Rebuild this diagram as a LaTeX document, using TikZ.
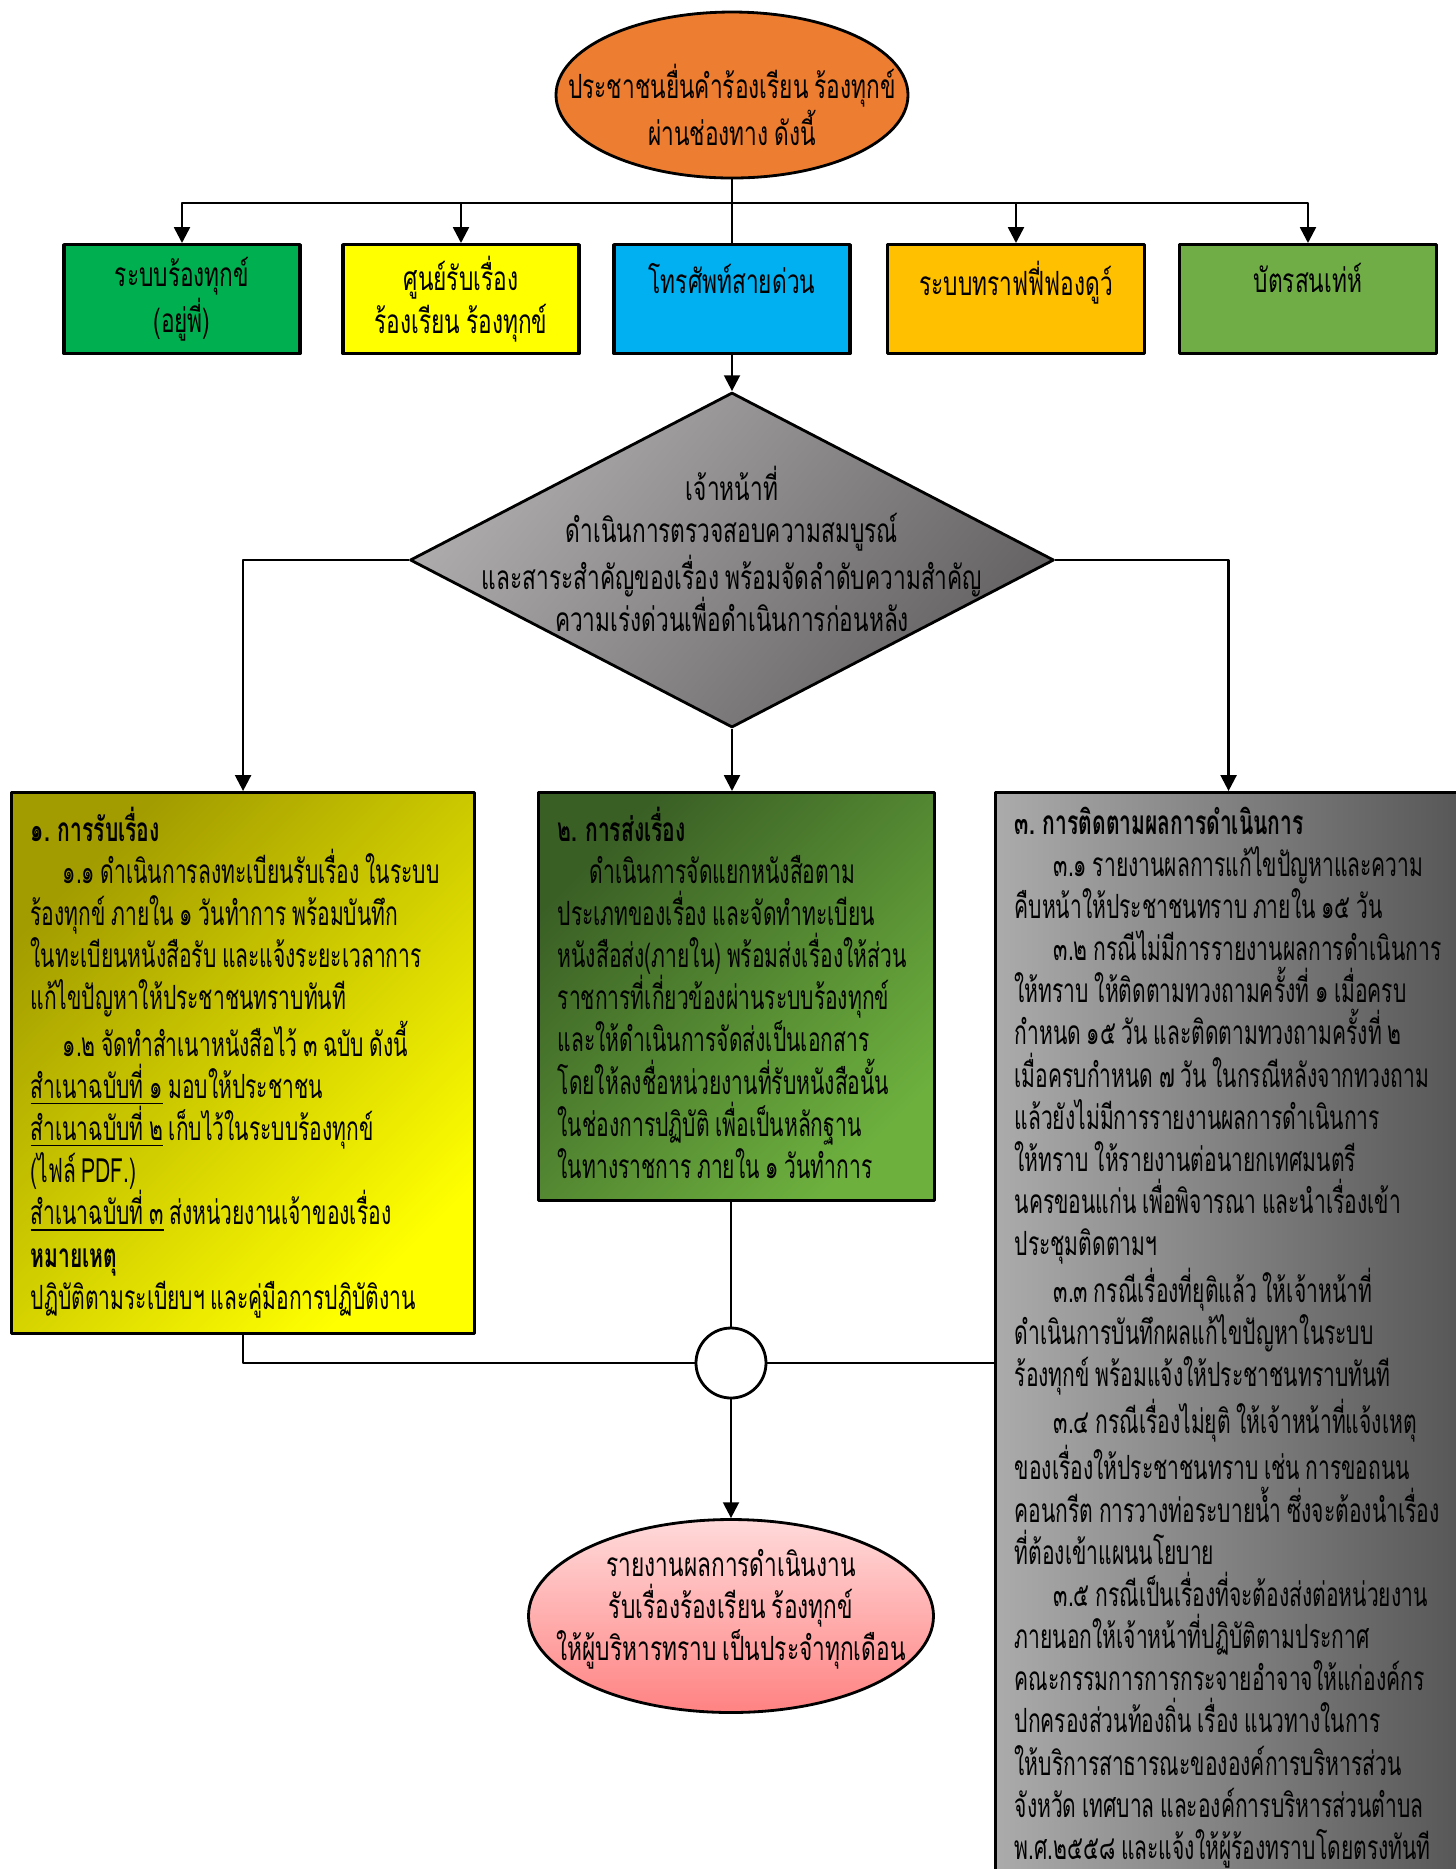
\documentclass[tikz,border=0pt]{standalone}
\usepackage{fontspec}
\setmainfont[Script=Thai, FakeStretch=0.68, WordSpace=0.8]{Loma}
\newfontfamily\panelfont[Script=Thai, FakeStretch=0.63, WordSpace=0.8]{Loma}
\usetikzlibrary{
    arrows.meta,
    shapes.geometric
}

\definecolor{srcorange}{HTML}{ED7D31}
\definecolor{chgreen}{HTML}{00B050}
\definecolor{chyellow}{HTML}{FFFF00}
\definecolor{chblue}{HTML}{00B0F0}
\definecolor{chamber}{HTML}{FFC000}
\definecolor{chlime}{HTML}{70AD47}
\definecolor{diatop}{HTML}{AEACAC}
\definecolor{diabot}{HTML}{646262}
\definecolor{olivetop}{HTML}{A29C00}
\definecolor{olivebot}{HTML}{FFFF00}
\definecolor{greentop}{HTML}{3A5F25}
\definecolor{greenbot}{HTML}{6DB03E}
\definecolor{grayleft}{HTML}{ABABAB}
\definecolor{grayright}{HTML}{575757}
\definecolor{pinktop}{HTML}{FFDADA}
\definecolor{pinkbot}{HTML}{FF8282}

\begin{document}
\begin{tikzpicture}[
    >={Triangle[length=4.5pt,width=4.5pt]},
    line join=round,
    flow/.style={->, line width=0.7pt},
    link/.style={line width=0.7pt},
    channel/.style={draw, line width=0.9pt, anchor=north,
        minimum width=2.36cm, minimum height=1.09cm, align=center},
    panel/.style={draw, line width=0.9pt, anchor=north west, inner sep=0pt},
    paneltext/.style={anchor=north west, inner sep=0pt, align=left,
        font=\panelfont\fontsize{9.5}{12}\selectfont},
    every node/.style={font=\fontsize{9.5}{12}\selectfont}
]

% -------------------------------------------------
% Page frame
% -------------------------------------------------

\clip (0,0) rectangle (14.56,-18.69);

% -------------------------------------------------
% Citizen request
% -------------------------------------------------

\node[ellipse, draw, line width=0.8pt, fill=srcorange,
    minimum width=3.52cm, minimum height=1.66cm] (src) at (7.32,-0.95) {};
\node[align=center, yshift=-0.1cm] (srctext) at (src)
    {ประชาชนยื่นคำร้องเรียน ร้องทุกข์\\ผ่านช่องทาง ดังนี้};

% -------------------------------------------------
% Channels
% -------------------------------------------------

\node[channel, fill=chgreen] (ch1) at (1.82,-2.43)
    {ระบบร้องทุกข์\\(อยู่พี่)};
\node[channel, fill=chyellow] (ch2) at (4.61,-2.43)
    {ศูนย์รับเรื่อง\\ร้องเรียน ร้องทุกข์};
\node[channel, fill=chblue] (ch3) at (7.32,-2.43)
    {โทรศัพท์สายด่วน\\\mbox{}};
\node[channel, fill=chamber, minimum width=2.57cm] (ch4) at (10.16,-2.43)
    {ระบบทราฟฟี่ฟองดูว์\\\mbox{}};
\node[channel, fill=chlime, minimum width=2.57cm] (ch5) at (13.08,-2.43)
    {บัตรสนเท่ห์\\\mbox{}};

\coordinate (fork) at (7.32,-2.03);

\draw[link] (src.south) -- (ch3.north);
\draw[flow] (fork) -| (ch1.north);
\draw[flow] (fork) -| (ch2.north);
\draw[flow] (fork) -| (ch4.north);
\draw[flow] (fork) -| (ch5.north);

% -------------------------------------------------
% Officer check
% -------------------------------------------------

\node[diamond, draw, line width=0.8pt, inner sep=0pt,
    minimum width=6.44cm, minimum height=3.35cm,
    top color=diatop, bottom color=diabot, shading angle=50] (check) at (7.32,-5.60) {};
\node[align=center, yshift=0.11cm] (checktext) at (check)
    {เจ้าหน้าที่\\
     ดำเนินการตรวจสอบความสมบูรณ์\\
     และสาระสำคัญของเรื่อง พร้อมจัดลำดับความสำคัญ\\
     ความเร่งด่วนเพื่อดำเนินการก่อนหลัง};

\draw[flow] (ch3.south) -- (check.north);

% -------------------------------------------------
% Three stages
% -------------------------------------------------

\node[panel, minimum width=4.63cm, minimum height=5.41cm,
    top color=olivetop, bottom color=olivebot, shading angle=45] (recv) at (0.10,-7.91) {};
\node[paneltext] (recvtext) at ([shift={(0.2,-0.15)}]recv.north west)
    {\textbf{๑. การรับเรื่อง}\\
     \hspace*{0.32cm}๑.๑ ดำเนินการลงทะเบียนรับเรื่อง ในระบบ\\
     ร้องทุกข์ ภายใน ๑ วันทำการ พร้อมบันทึก\\
     ในทะเบียนหนังสือรับ และแจ้งระยะเวลาการ\\
     แก้ไขปัญหาให้ประชาชนทราบทันที\\
     \hspace*{0.32cm}๑.๒ จัดทำสำเนาหนังสือไว้ ๓ ฉบับ ดังนี้\\
     \underline{สำเนาฉบับที่ ๑} มอบให้ประชาชน\\
     \underline{สำเนาฉบับที่ ๒} เก็บไว้ในระบบร้องทุกข์\\
     (ไฟล์ PDF.)\\
     \underline{สำเนาฉบับที่ ๓} ส่งหน่วยงานเจ้าของเรื่อง\\
     \textbf{หมายเหตุ}\\
     ปฏิบัติตามระเบียบฯ และคู่มือการปฏิบัติงาน};

\node[panel, minimum width=3.96cm, minimum height=4.08cm,
    top color=greentop, bottom color=greenbot, shading angle=45] (send) at (5.37,-7.91) {};
\node[paneltext] (sendtext) at ([shift={(0.2,-0.15)}]send.north west)
    {\textbf{๒. การส่งเรื่อง}\\
     \hspace*{0.32cm}ดำเนินการจัดแยกหนังสือตาม\\
     ประเภทของเรื่อง และจัดทำทะเบียน\\
     หนังสือส่ง(ภายใน) พร้อมส่งเรื่องให้ส่วน\\
     ราชการที่เกี่ยวข้องผ่านระบบร้องทุกข์\\
     และให้ดำเนินการจัดส่งเป็นเอกสาร\\
     โดยให้ลงชื่อหน่วยงานที่รับหนังสือนั้น\\
     ในช่องการปฏิบัติ เพื่อเป็นหลักฐาน\\
     ในทางราชการ ภายใน ๑ วันทำการ};

\node[panel, minimum width=4.66cm, minimum height=11.2cm,
    left color=grayleft, right color=grayright] (track) at (9.94,-7.91) {};
\node[paneltext] (tracktext) at ([shift={(0.2,-0.15)}]track.north west)
    {\textbf{๓. การติดตามผลการดำเนินการ}\\
     \hspace*{0.39cm}๓.๑ รายงานผลการแก้ไขปัญหาและความ\\
     คืบหน้าให้ประชาชนทราบ ภายใน ๑๕ วัน\\
     \hspace*{0.39cm}๓.๒ กรณีไม่มีการรายงานผลการดำเนินการ\\
     ให้ทราบ ให้ติดตามทวงถามครั้งที่ ๑ เมื่อครบ\\
     กำหนด ๑๕ วัน และติดตามทวงถามครั้งที่ ๒\\
     เมื่อครบกำหนด ๗ วัน ในกรณีหลังจากทวงถาม\\
     แล้วยังไม่มีการรายงานผลการดำเนินการ\\
     ให้ทราบ ให้รายงานต่อนายกเทศมนตรี\\
     นครขอนแก่น เพื่อพิจารณา และนำเรื่องเข้า\\
     ประชุมติดตามฯ\\
     \hspace*{0.39cm}๓.๓ กรณีเรื่องที่ยุติแล้ว ให้เจ้าหน้าที่\\
     ดำเนินการบันทึกผลแก้ไขปัญหาในระบบ\\
     ร้องทุกข์ พร้อมแจ้งให้ประชาชนทราบทันที\\
     \hspace*{0.39cm}๓.๔ กรณีเรื่องไม่ยุติ ให้เจ้าหน้าที่แจ้งเหตุ\\
     ของเรื่องให้ประชาชนทราบ เช่น การขอถนน\\
     คอนกรีต การวางท่อระบายน้ำ ซึ่งจะต้องนำเรื่อง\\
     ที่ต้องเข้าแผนนโยบาย\\
     \hspace*{0.39cm}๓.๕ กรณีเป็นเรื่องที่จะต้องส่งต่อหน่วยงาน\\
     ภายนอกให้เจ้าหน้าที่ปฏิบัติตามประกาศ\\
     คณะกรรมการการกระจายอำจาจให้แก่องค์กร\\
     ปกครองส่วนท้องถิ่น เรื่อง แนวทางในการ\\
     ให้บริการสาธารณะขององค์การบริหารส่วน\\
     จังหวัด เทศบาล และองค์การบริหารส่วนตำบล\\
     พ.ศ.๒๕๕๘ และแจ้งให้ผู้ร้องทราบโดยตรงทันที};

\draw[flow] (check.west) -| (recv.north);
\draw[flow] (check.south) -- (check.south |- send.north);
\draw[flow] (check.east) -| (track.north);

% -------------------------------------------------
% Junction and monthly report
% -------------------------------------------------

\node[circle, draw, fill=white, line width=0.8pt, inner sep=0pt,
    minimum size=0.70cm] (join) at (7.31,-13.63) {};

\node[ellipse, draw, line width=0.8pt, inner sep=0pt,
    minimum width=4.05cm, minimum height=1.93cm,
    top color=pinktop, bottom color=pinkbot] (report) at (7.31,-16.16) {};
\node[align=center, yshift=0.07cm] (reporttext) at (report)
    {รายงานผลการดำเนินงาน\\
     รับเรื่องร้องเรียน ร้องทุกข์\\
     ให้ผู้บริหารทราบ เป็นประจำทุกเดือน};

\draw[link] (recv.south) |- (join.west);
\draw[link] (join.north |- send.south) -- (join.north);
\draw[link] (join.east) -- (join.east -| track.west);
\draw[flow] (join.south) -- (report.north);

\end{tikzpicture}
\end{document}
